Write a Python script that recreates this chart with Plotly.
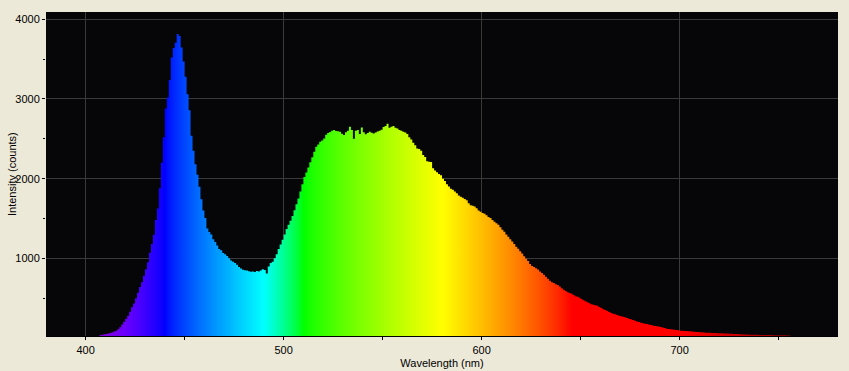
import plotly.graph_objects as go

# Wavelength samples (nm) and measured intensity (counts)
wavelengths = list(range(400, 771))
intensity = [
    0, 0, 2, 5, 10, 18, 25, 36, 42, 46,                      # 400-409
    50, 56, 64, 72, 82, 92, 110, 135, 168, 205,               # 410-419
    240, 278, 330, 385, 432, 500, 568, 640, 700, 782,         # 420-429
    862, 950, 1070, 1180, 1295, 1480, 1625, 1880, 2200, 2520, # 430-439
    2880, 3020, 3240, 3520, 3640, 3705, 3815, 3790, 3645, 3470,  # 440-449
    3280, 3060, 2860, 2540, 2350, 2180, 2050, 1900, 1740, 1600,  # 450-459
    1505, 1375, 1330, 1300, 1240, 1205, 1160, 1118, 1100, 1068,  # 460-469
    1052, 1028, 1000, 972, 958, 940, 918, 890, 872, 858,      # 470-479
    850, 846, 838, 830, 836, 828, 842, 834, 846, 862,         # 480-489
    852, 808, 898, 942, 958, 1002, 1050, 1118, 1172, 1232,    # 490-499
    1300, 1368, 1420, 1472, 1530, 1602, 1680, 1752, 1840, 1930,  # 500-509
    2022, 2078, 2140, 2205, 2268, 2338, 2400, 2428, 2462, 2480,  # 510-519
    2505, 2550, 2572, 2586, 2602, 2612, 2598, 2594, 2588, 2565,  # 520-529
    2548, 2582, 2600, 2652, 2612, 2500, 2600, 2612, 2560, 2642,  # 530-539
    2582, 2558, 2572, 2590, 2576, 2568, 2580, 2592, 2600, 2615,  # 540-549
    2650, 2662, 2690, 2640, 2652, 2660, 2638, 2630, 2612, 2600,  # 550-559
    2590, 2580, 2560, 2520, 2492, 2450, 2420, 2380, 2372, 2350,  # 560-569
    2298, 2272, 2220, 2212, 2208, 2130, 2102, 2080, 2060, 2042,  # 570-579
    1998, 1972, 1930, 1902, 1872, 1860, 1840, 1818, 1790, 1772,  # 580-589
    1760, 1745, 1730, 1690, 1665, 1660, 1650, 1628, 1600, 1585,  # 590-599
    1570, 1560, 1540, 1520, 1505, 1480, 1460, 1440, 1420, 1390,  # 600-609
    1360, 1335, 1300, 1270, 1240, 1210, 1180, 1145, 1120, 1090,  # 610-619
    1060, 1025, 995, 965, 930, 905, 890, 875, 860, 835,       # 620-629
    815, 795, 770, 745, 720, 700, 690, 675, 665, 645,         # 630-639
    625, 605, 590, 575, 565, 555, 540, 525, 518, 505,         # 640-649
    490, 475, 460, 448, 435, 425, 418, 410, 405, 390,         # 650-659
    375, 362, 350, 338, 325, 315, 305, 298, 290, 280,         # 660-669
    272, 268, 260, 250, 240, 234, 225, 215, 207, 200,         # 670-679
    192, 185, 180, 176, 170, 164, 158, 152, 148, 143,         # 680-689
    138, 132, 125, 116, 112, 110, 106, 103, 100, 96,          # 690-699
    92, 90, 88, 88, 86, 85, 82, 78, 76, 74,                   # 700-709
    72, 71, 69, 67, 66, 65, 64, 63, 62, 60,                   # 710-719
    59, 58, 57, 56, 55, 54, 52, 50, 50, 49,                   # 720-729
    47, 46, 45, 44, 43, 42, 41, 41, 40, 40,                   # 730-739
    39, 38, 38, 37, 37, 36, 36, 35, 35, 34,                   # 740-749
    34, 33, 33, 33, 32, 31, 20, 18, 16, 15,                   # 750-759
    14, 13, 12, 11, 10, 10, 9, 8, 8, 7, 6,                    # 760-770
]

x_tickvals = [400, 500, 600, 700]
y_tickvals = [1000, 2000, 3000, 4000]

X_MIN, X_MAX = 380, 780


def wl_color(w):
    if w < 440:
        r, g, b = -(w - 440) / 60.0, 0.0, 1.0
    elif w < 490:
        r, g, b = 0.0, (w - 440) / 50.0, 1.0
    elif w < 510:
        r, g, b = 0.0, 1.0, -(w - 510) / 20.0
    elif w < 580:
        r, g, b = (w - 510) / 70.0, 1.0, 0.0
    elif w < 645:
        r, g, b = 1.0, -(w - 645) / 65.0, 0.0
    else:
        r, g, b = 1.0, 0.0, 0.0
    if w < 420:
        f = 0.3 + 0.7 * (w - 380) / 40.0
    elif w > 700:
        f = 0.3 + 0.7 * (780 - w) / 80.0
    else:
        f = 1.0

    def c(v):
        v = max(0.0, min(1.0, v))
        return 0 if v == 0 else round(255 * (v * f) ** 0.8)

    return f"rgb({c(r)},{c(g)},{c(b)})"


colorscale = []
for w in range(X_MIN, X_MAX + 1, 2):
    colorscale.append([(w - X_MIN) / (X_MAX - X_MIN), wl_color(w)])

fig = go.Figure()
fig.add_trace(go.Scatter(
    x=wavelengths, y=intensity,
    mode="lines",
    line=dict(width=0, shape="hv"),
    fill="tozeroy",
    fillgradient=dict(type="horizontal", colorscale=colorscale,
                      start=X_MIN, stop=X_MAX),
    hoverinfo="skip",
    showlegend=False,
))

font = dict(family="Liberation Sans, Arial, sans-serif", size=11, color="#000000")

fig.update_layout(
    width=849, height=371,
    margin=dict(l=46, r=11, t=12, b=35),
    paper_bgcolor="#ECE9D8",
    plot_bgcolor="#060609",
    font=font,
    showlegend=False,
    xaxis=dict(
        range=[X_MIN, X_MAX],
        automargin=False,
        tickvals=x_tickvals,
        ticks="",
        ticklabelstandoff=4,
        showgrid=True, gridcolor="#3a3a3a", gridwidth=1,
        zeroline=False,
        showline=True, linecolor="#000000", linewidth=1,
        minor=dict(dtick=50, ticks="outside", ticklen=3, tickcolor="#000000", showgrid=False),
        title=dict(text="Wavelength (nm)", font=font, standoff=4),
        tickfont=font,
    ),
    yaxis=dict(
        range=[25, 4092],
        automargin=False,
        tickvals=y_tickvals,
        ticks="outside", ticklen=3, tickcolor="#000000",
        showgrid=True, gridcolor="#3a3a3a", gridwidth=1,
        zeroline=False,
        showline=False,
        minor=dict(tickvals=[500, 1500, 2500, 3500], ticks="outside", ticklen=2,
                   tickcolor="#000000", showgrid=False),
        tickfont=font,
    ),
    annotations=[dict(
        text="Intensity (counts)", textangle=-90,
        xref="paper", yref="paper", x=0, y=0.5,
        xanchor="center", yanchor="middle", xshift=-34,
        showarrow=False, font=font,
    )],
)

fig.write_html("out.html")
